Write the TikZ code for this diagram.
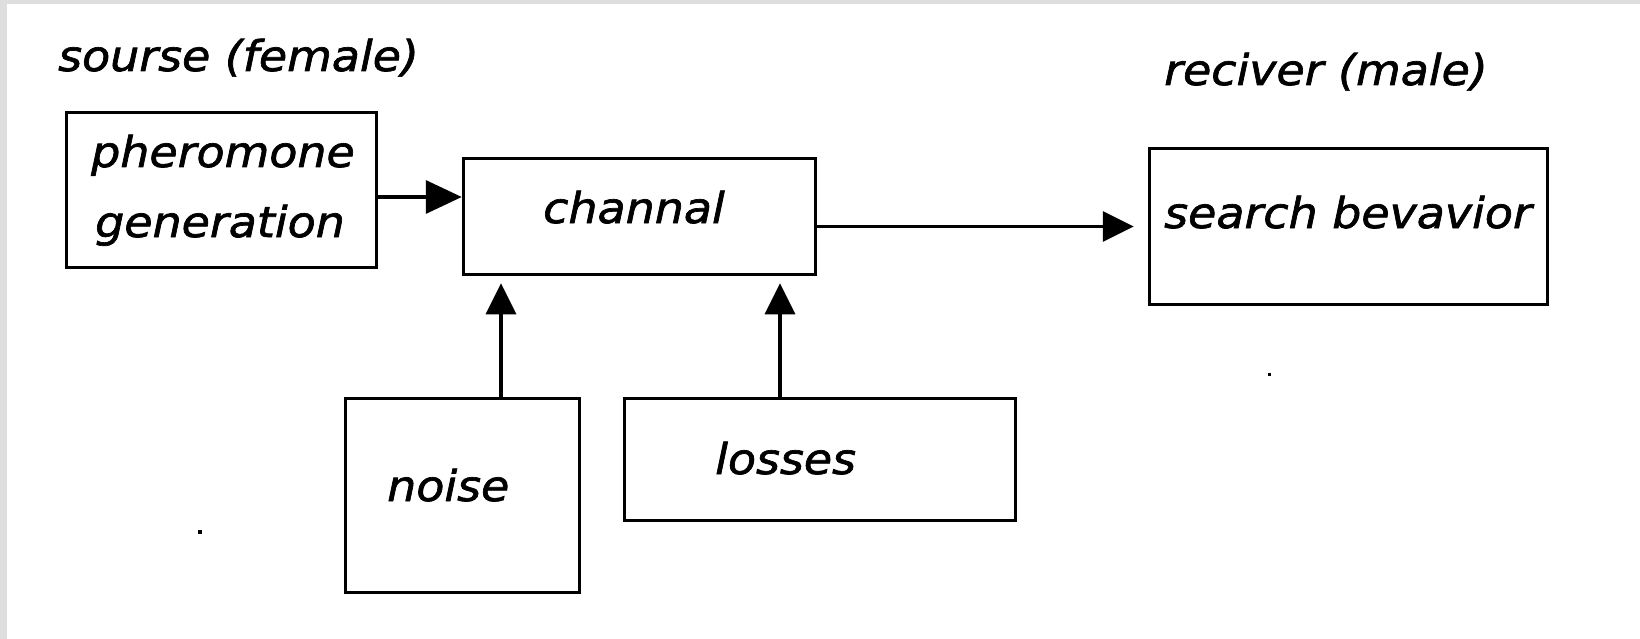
\documentclass[tikz,border=0pt]{standalone}
\usepackage{fontspec}
\newfontfamily\labelfont[FakeStretch=1.08,FakeBold=1.6]{DejaVu Sans Oblique}
\usetikzlibrary{arrows.meta}
\begin{document}
\begin{tikzpicture}[x=1pt,y=-1pt,
  box/.style={draw,line width=3.5pt,rectangle,inner sep=0pt},
  lbl/.style={font=\labelfont\fontsize{42.5}{50}\selectfont,inner sep=0pt,anchor=base west},
  link/.style={line width=3.5pt,-{Triangle[length=31pt,width=30pt]}}]
% page and textured edge
\useasboundingbox (0,0) rectangle (1640,639);
\fill[white] (0,0) rectangle (1640,639);
\fill[black!13] (0,0) rectangle (1640,4);
\fill[black!13] (0,0) rectangle (7,639);

% blocks
\node[box,minimum width=310pt,minimum height=155pt] (pher)  at (221.5,190)  {};
\node[box,minimum width=352pt,minimum height=116pt] (chan)  at (639.5,216.5) {};
\node[box,minimum width=398pt,minimum height=156pt] (srch)  at (1348.5,226.5) {};
\node[box,minimum width=234pt,minimum height=194pt] (noise) at (462.5,495.5) {};
\node[box,minimum width=391pt,minimum height=122pt] (loss)  at (820,459.5)  {};

% labels
\node[lbl] (src) at (58,71)   {sourse (female)};
\node[lbl] (rcv) at (1164,85) {reciver (male)};
\node[lbl] (t1)  at (91,167)  {pheromone};
\node[lbl] (t2)  at (95,237)  {generation};
\node[lbl] (t3)  at (543,223) {channal};
\node[lbl] (t4)  at (1164,228) {search bevavior};
\node[lbl] (t5)  at (387,501) {noise};
\node[lbl] (t6)  at (715,474) {losses};

% connectors
\path ([yshift=-7pt]pher.east) coordinate (p1);
\draw[line width=3.5pt,-{Triangle[length=36pt,width=33pt]}] (p1) -- (p1 -| chan.west);
\draw[link,shorten >=14pt] (srch.west -| chan.east) -- (srch.west);
\path ([xshift=38.5pt]noise.north) coordinate (n1);
\draw[link,shorten >=7pt] (n1) -- (n1 |- chan.south);
\path ([xshift=-40pt]loss.north) coordinate (l1);
\draw[link,shorten >=7pt] (l1) -- (l1 |- chan.south);

% stray specks
\fill (198,530) rectangle (202,534);
\fill (1268,373) rectangle (1271,376);
\end{tikzpicture}
\end{document}
